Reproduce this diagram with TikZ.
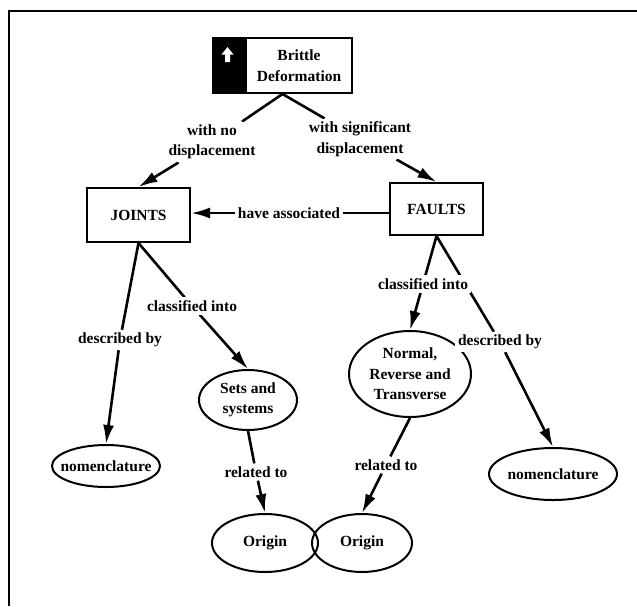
\documentclass[tikz,border=0pt]{standalone}
\usepackage{fontspec}
\setmainfont{Liberation Serif}
\usetikzlibrary{arrows.meta,shapes.geometric,calc,backgrounds}

\begin{document}
\begin{tikzpicture}[x=1pt, y=-1pt,
    every node/.style={font=\fontsize{15.5}{20.5}\selectfont\bfseries, align=center},
    concept/.style={draw, line width=2pt, inner sep=0pt},
    oval/.style={ellipse, draw, line width=2pt, inner xsep=-10pt, inner ysep=0pt},
    lbl/.style={inner sep=3pt, fill=white},
    link/.style={line width=2.6pt},
    arrowlink/.style={line width=2.6pt, -{Latex[length=19pt,width=11pt]}}]
  \useasboundingbox (0,0) rectangle (637,606);
  \draw[line width=1.5pt] (9,606) -- (9,11) -- (637,11);
  % concepts
  \node[concept, minimum width=106, minimum height=55] (bd) at (299,65.5) {Brittle\\Deformation};
  \node[concept, fill=black, minimum width=31, minimum height=55, anchor=north east] (bdtab) at (bd.north west) {};
  \fill[white] (227.5,47) -- (233.5,54.5) -- (230,54.5) -- (230,62) -- (225,62) -- (225,54.5) -- (221.5,54.5) -- cycle;
  \node[concept, minimum width=103, minimum height=54] (joints) at (138.5,215) {JOINTS};
  \node[concept, minimum width=93, minimum height=52] (faults) at (436.5,209) {FAULTS};
  \node[oval, minimum width=98, minimum height=60] (sets) at (248,400) {Sets and\\systems};
  \node[oval, minimum width=122, minimum height=86] (normal) at (410,374) {Normal,\\Reverse and\\Transverse};
  \node[oval, minimum width=108, minimum height=42] (nomj) at (106,466) {nomenclature};
  \node[oval, minimum width=128, minimum height=52] (nomf) at (553,474) {nomenclature};
  \node[oval, minimum width=106, minimum height=58] (origj) at (265,543) {Origin};
  \node[oval, minimum width=100, minimum height=58] (origf) at (362,543) {Origin};
  % link labels
  \node[lbl] (lno) at (212,142) {with no\\displacement};
  \node[lbl] (lsig) at (360,139) {with significant\\displacement};
  \node[lbl] (lassoc) at (289,213) {have associated};
  \node[lbl] (ljdesc) at (120,340) {described by};
  \node[lbl] (ljclass) at (192,306) {classified into};
  \node[lbl] (lfclass) at (423,284) {classified into};
  \node[lbl] (lfdesc) at (500,342) {described by};
  \node[lbl] (ljrel) at (256,472) {related to};
  \node[lbl] (lfrel) at (386,465) {related to};
  % links
  \begin{pgfonlayer}{background}
    \coordinate (bdbase) at ($(bdtab.south west)!0.5!(bd.south east)$);
    \draw[link] (bdbase) -- (lno);
    \draw[arrowlink] (lno) -- (joints.north);
    \draw[link] (bdbase) -- (lsig);
    \draw[arrowlink] (lsig) -- (faults.north);
    \draw[link] (lassoc) -- (lassoc -| faults.west);
    \draw[arrowlink] (lassoc) -- (lassoc -| joints.east);
    \draw[link] (joints.south) -- (ljdesc);
    \draw[arrowlink] (ljdesc) -- (nomj.north);
    \draw[link] (joints.south) -- (ljclass);
    \draw[arrowlink] (ljclass) -- (sets.north);
    \draw[link] (faults.south) -- (lfclass);
    \draw[arrowlink] (lfclass) -- (normal.north);
    \draw[link] (faults.south) -- (lfdesc);
    \draw[arrowlink] (lfdesc) -- (nomf.north);
    \draw[link] (sets.south) -- (ljrel);
    \draw[arrowlink] (ljrel) -- (origj.north);
    \draw[link] (normal.south) -- (lfrel);
    \draw[arrowlink] (lfrel) -- (origf.north);
  \end{pgfonlayer}
\end{tikzpicture}
\end{document}
